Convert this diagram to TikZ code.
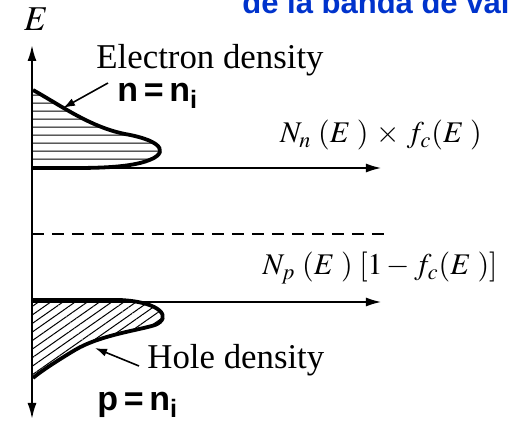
\documentclass[tikz,border=0pt]{standalone}
\usepackage{mathptmx}
\usepackage{fontspec}
\setmainfont{Liberation Serif}
\newfontfamily\handfont{Liberation Sans}
\usetikzlibrary{arrows.meta,patterns.meta}
\definecolor{titleblue}{RGB}{0,51,204}

\begin{document}
\begin{tikzpicture}[x=0.5pt,y=-0.5pt,
  band/.style={line width=1.9pt,line join=round},
  axisline/.style={line width=1pt},
  level/.style={line width=0.7pt,-{Latex[length=7.5pt,width=4.5pt]}},
  txt/.style={inner sep=0pt,font=\fontsize{17.4}{20}\selectfont},
  mlbl/.style={inner sep=0pt,font=\fontsize{15}{18}\selectfont},
  hand/.style={inner sep=0pt,font=\handfont\bfseries\fontsize{17}{19}\selectfont}]
\useasboundingbox (0,0) rectangle (516,423);
\clip (0,0) rectangle (516,423);
% title, cut at the page edge
\node[anchor=base west,inner sep=0pt,text=titleblue,
  font=\handfont\bfseries\fontsize{15.5}{18}\selectfont] (title) at (242,13.5) {de la banda de val};
% energy axis
\coordinate (top) at (32,45);
\coordinate (bot) at (32,419);
\draw[axisline,{Latex[length=8pt,width=4.5pt]}-{Latex[length=8pt,width=4.5pt]}] (bot) -- (top);
\node[txt] (E) at (36,19) {$E$};
% band edges and midgap
\coordinate (cb) at (32,168);
\coordinate (vb) at (32,302);
\coordinate (mid) at (32,234);
\draw[level] (cb) -- (381,168);
\draw[level] (vb) -- (381,302);
\draw[line width=0.8pt,dash pattern=on 6pt off 4pt] (mid) -- (386,234);
% electron density
\fill[pattern={Lines[angle=0,distance=4pt,line width=0.5pt]}]
  (33,90) .. controls (60,105) and (90,127) .. (125,134)
  .. controls (165,141) and (172,155) .. (140,163)
  .. controls (115,169) and (80,168) .. (33,168) -- cycle;
\draw[band] (33,90) .. controls (60,105) and (90,127) .. (125,134)
  .. controls (165,141) and (172,155) .. (140,163)
  .. controls (115,169) and (80,168) .. (33,168);
% hole density
\fill[pattern={Lines[angle=35,distance=3.5pt,line width=0.5pt]}]
  (33,300) -- (120,300) .. controls (162,302) and (172,318) .. (155,325)
  .. controls (140,330) and (100,335) .. (75,350)
  .. controls (55,362) and (40,372) .. (33,378) -- cycle;
\draw[band] (33,300) -- (120,300) .. controls (162,302) and (172,318) .. (155,325)
  .. controls (140,330) and (100,335) .. (75,350)
  .. controls (55,362) and (40,372) .. (33,378);
% labels
\node[txt] (edens) at (210,60) {Electron density};
\node[hand,anchor=west] (nlab) at (117,96) {n\,=\,n\textsubscript{i}};
\coordinate (etip) at (63,108);
\draw[line width=0.8pt,-{Latex[length=6pt,width=4pt]}] (108,83) -- (etip);
\node[mlbl] (nfc) at (381,135) {$N_n\;(E\;)\,\times\,f_c(E\;)$};
\node[mlbl] (pfc) at (380,268) {$N_p\;(E\;)\;[1-f_c(E\;)]$};
\node[txt,anchor=west] (hdens) at (147,360) {Hole density};
\coordinate (htip) at (95,348);
\draw[line width=0.8pt,-{Latex[length=6pt,width=4pt]}] (hdens.west) ++(-8,6) -- (htip);
\node[hand,anchor=west] (plab) at (97,405) {p\,=\,n\textsubscript{i}};
\end{tikzpicture}
\end{document}
